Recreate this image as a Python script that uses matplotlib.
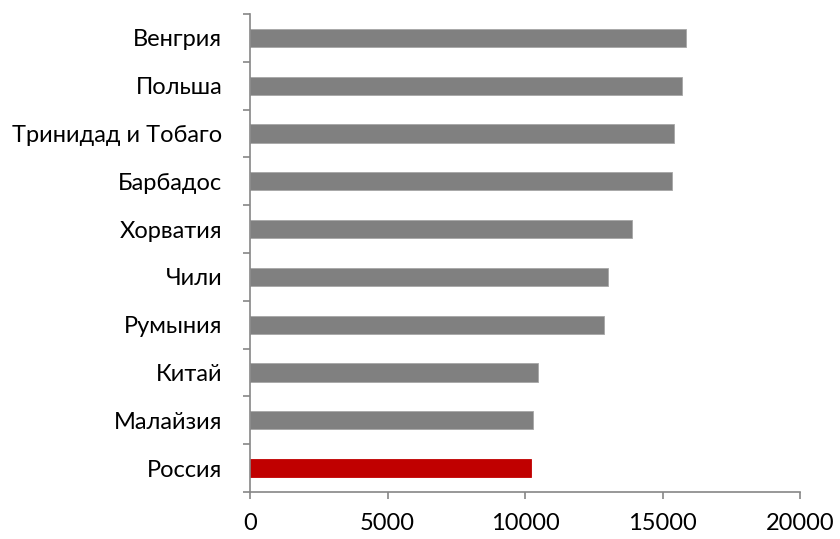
import numpy as np
import matplotlib
matplotlib.use("Agg")
from matplotlib import pyplot as plt

countries = ["Россия", "Малайзия", "Китай", "Румыния", "Чили",
             "Хорватия", "Барбадос", "Тринидад и Тобаго", "Польша", "Венгрия"]
values = [10200, 10280, 10490, 12880, 13020, 13890, 15350, 15420, 15700, 15860]
colors = ["#c00000"] + ["#808080"] * 9

plt.rcParams['font.family'] = ['Lato', 'DejaVu Sans']

fig = plt.figure(figsize=(8.4, 5.39), dpi=100)
ax = fig.add_axes([250/840, 1-492/539, 550/840, 478/539])

y = np.arange(len(countries))
ax.barh(y, values, height=0.38, color=colors, edgecolor=["#c00000"] + ["#a6a6a6"] * 9, linewidth=0.6)

ax.set_xlim(0, 20000)
ax.set_ylim(-0.5, len(countries) - 0.5)
ax.set_xticks([0, 5000, 10000, 15000, 20000])
ax.set_yticks(y)
ax.set_yticklabels(countries)
ax.set_yticks(np.arange(-0.5, len(countries)), minor=True)

for s in ["top", "right"]:
    ax.spines[s].set_visible(False)
for s in ["left", "bottom"]:
    ax.spines[s].set_color("#868686")
    ax.spines[s].set_linewidth(1.2)

ax.tick_params(axis="y", which="major", length=0, pad=20, labelsize=17)
ax.tick_params(axis="y", which="minor", length=5, width=1.2, color="#868686")
ax.tick_params(axis="x", length=5, width=1.2, color="#868686", pad=10, labelsize=17)

fig.savefig("out.png", dpi=100)
